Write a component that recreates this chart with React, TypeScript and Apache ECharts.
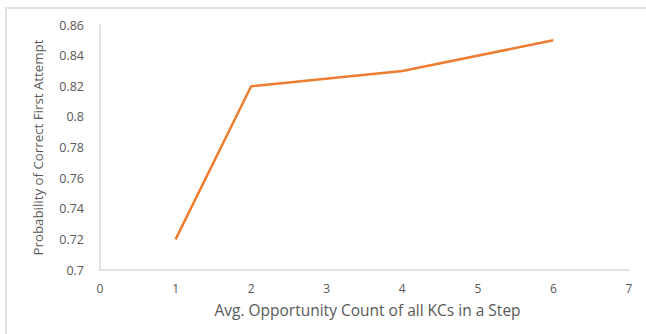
import React, { useEffect, useRef } from "react";
import * as echarts from "echarts";

const xValues = [1, 2, 4, 6];
const yValues = [0.72, 0.82, 0.83, 0.85];
const xTitle = "Avg. Opportunity Count of all KCs in a Step";
const yTitle = "Probability of Correct First Attempt";

export default function App() {
  const ref = useRef<HTMLDivElement>(null);
  useEffect(() => {
    if (!ref.current) return;
    const chart = echarts.init(ref.current, null, { renderer: "svg" });
    const font = "'Open Sans', sans-serif";
    chart.setOption({
      animation: false,
      backgroundColor: "#ffffff",
      graphic: [
        {
          type: "rect",
          shape: { x: 6, y: 8, width: 700, height: 400 },
          style: { fill: "none", stroke: "#d9d9d9", lineWidth: 1.5 },
          silent: true,
        },
      ],
      grid: { left: 100, right: 17, top: 25, bottom: 64 },
      xAxis: {
        type: "value",
        min: 0,
        max: 7,
        interval: 1,
        name: xTitle,
        nameLocation: "middle",
        nameGap: 32,
        nameTextStyle: { color: "#595959", fontSize: 15.5, fontFamily: font, padding: [0, 0, 0, 6] },
        axisLine: { show: true, lineStyle: { color: "#d9d9d9", width: 1.5 } },
        axisTick: { show: false },
        splitLine: { show: false },
        axisLabel: { color: "#595959", fontSize: 12, fontFamily: font, margin: 12 },
      },
      yAxis: {
        type: "value",
        min: 0.7,
        max: 0.86,
        interval: 0.02,
        name: yTitle,
        nameLocation: "middle",
        nameGap: 56,
        nameTextStyle: { color: "#595959", fontSize: 13.3, fontFamily: font },
        axisLine: { show: true, lineStyle: { color: "#d9d9d9", width: 1.5 } },
        axisTick: { show: false },
        splitLine: { show: false },
        axisLabel: {
          color: "#595959",
          fontSize: 12.5,
          fontFamily: font,
          margin: 16,
          formatter: (v: number) => String(parseFloat(v.toFixed(2))),
        },
      },
      series: [
        {
          type: "line",
          data: xValues.map((x, i) => [x, yValues[i]]),
          showSymbol: false,
          symbol: "none",
          lineStyle: { color: "#ED7D31", width: 2.5 },
        },
      ],
    });
    return () => chart.dispose();
  }, []);
  return (
    <div
      ref={ref}
      style={{ position: "fixed", left: 0, top: 0, width: 646, height: 334 }}
    />
  );
}
